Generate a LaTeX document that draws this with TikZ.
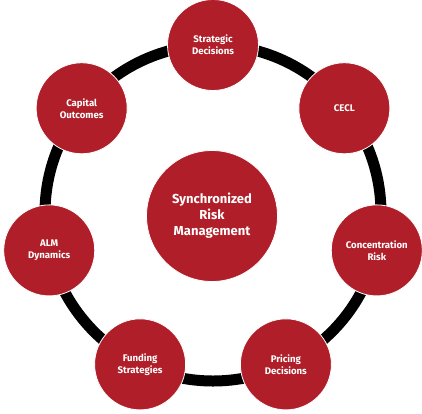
\documentclass[tikz,border=0pt]{standalone}
\usepackage{fontspec}
\setmainfont{Fira Sans}
\usetikzlibrary{calc,positioning}
\definecolor{riskred}{RGB}{176,31,41}
\tikzstyle{hub}=[circle,fill=riskred,draw=white,thick,text=white,align=center,inner sep=0pt,minimum size=131pt,font=\bfseries\fontsize{13}{16}\selectfont]
\tikzstyle{driver}=[hub,minimum size=91pt,font=\bfseries\fontsize{9.6}{12}\selectfont]
\tikzstyle{ring}=[draw=black,line width=11pt]

\begin{document}
\begin{tikzpicture}[x=1pt,y=1pt]
\useasboundingbox (0,0) rectangle (422,-413);
\coordinate (O) at (213,-213);
\draw[ring] (O) circle (168);
\node[hub] (H) at (212,-216) {Synchronized\\Risk\\Management};
\foreach \t [count=\i from 0] in {{Strategic\\Decisions},{CECL},{Concentration\\Risk},{Pricing\\Decisions},{Funding\\Strategies},{ALM\\Dynamics},{Capital\\Outcomes}}
        \node[driver] (A\i) at ($(O)+(90-360/7*\i:168)$) {\t};
\end{tikzpicture}
\end{document}
